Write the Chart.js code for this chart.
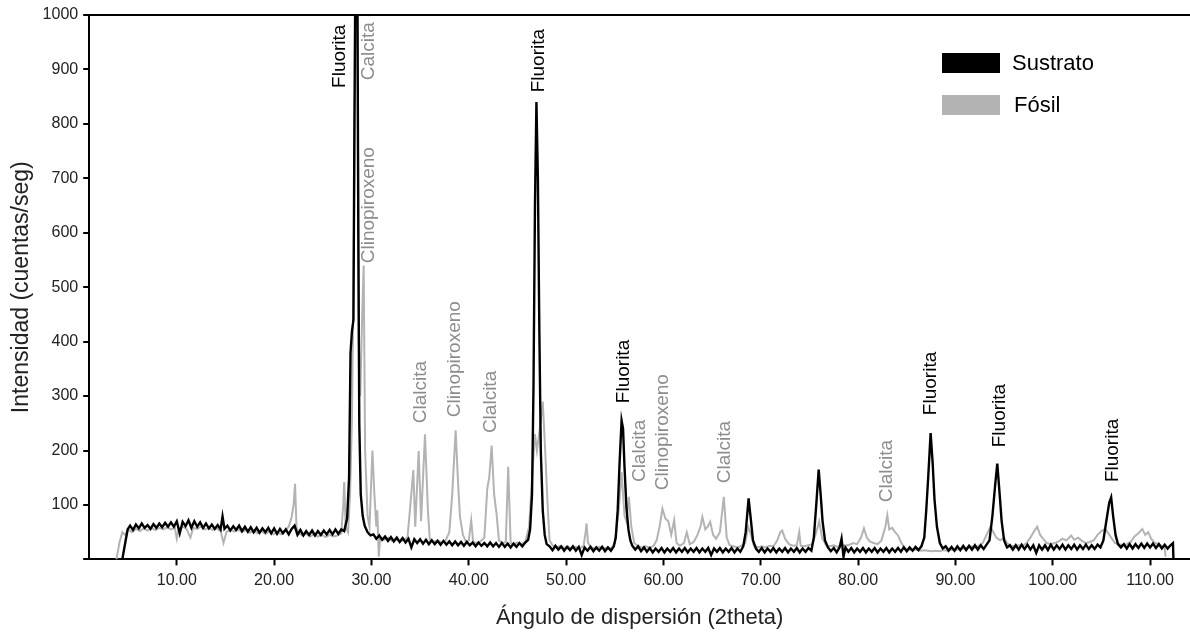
<!DOCTYPE html>
<html>
<head>
<meta charset="utf-8">
<script src="https://cdn.jsdelivr.net/npm/chart.js@4"></script>
<style>
  body { margin: 0; background: #fff; }
  #wrap { width: 1190px; height: 637px; }
</style>
</head>
<body>
<div id="wrap"><canvas id="xrd" width="1190" height="637"></canvas></div>
<script>
// difractograma: [2theta, cuentas/seg]
const sustrato = [
  [4.4,0],[4.7,30],[4.95,55],[5.2,62],[5.5,54],[5.8,64],[6.1,57],[6.4,66],[6.7,58],[7.0,63],[7.3,56],[7.6,65],
  [7.9,58],[8.2,66],[8.5,59],[8.8,67],[9.1,60],[9.4,68],[9.7,60],[10.0,70],[10.3,48],[10.6,69],[10.9,61],[11.2,72],
  [11.5,58],[11.8,70],[12.1,60],[12.4,68],[12.7,58],[13.0,66],[13.3,57],[13.6,64],[13.9,56],[14.2,63],[14.5,55],[14.7,79],
  [14.9,56],[15.2,62],[15.5,53],[15.8,61],[16.1,54],[16.4,62],[16.7,52],[17.0,60],[17.3,51],[17.6,59],[17.9,50],[18.2,58],
  [18.5,49],[18.8,57],[19.1,50],[19.4,58],[19.7,48],[20.0,57],[20.3,47],[20.6,56],[20.9,48],[21.2,55],[21.5,46],[21.8,56],
  [22.1,62],[22.4,45],[22.7,54],[23.0,44],[23.3,52],[23.6,45],[23.9,53],[24.2,44],[24.5,52],[24.8,45],[25.1,53],[25.4,46],
  [25.7,54],[26.0,46],[26.3,55],[26.6,47],[26.9,55],[27.2,52],[27.5,75],[27.7,150],[27.85,380],[28.0,420],[28.15,440],
  [28.25,800],[28.35,1080],[28.55,1080],[28.65,600],[28.75,250],[28.9,120],[29.1,80],[29.3,62],[29.6,50],[29.9,44],
  [30.2,46],[30.5,38],[30.8,44],[31.1,36],[31.4,42],[31.7,34],[32.0,41],[32.3,33],[32.6,40],[32.9,32],[33.2,39],[33.5,31],
  [33.8,38],[34.1,22],[34.4,37],[34.7,30],[35.0,37],[35.3,29],[35.6,36],[35.9,28],[36.2,35],[36.5,28],[36.8,34],[37.1,27],
  [37.4,34],[37.7,27],[38.0,33],[38.3,26],[38.6,33],[38.9,26],[39.2,32],[39.5,25],[39.8,32],[40.1,26],[40.4,31],[40.7,24],
  [41.0,31],[41.3,25],[41.6,30],[41.9,24],[42.2,31],[42.5,24],[42.8,30],[43.1,23],[43.4,30],[43.7,23],[44.0,29],[44.3,22],
  [44.6,29],[44.9,23],[45.2,30],[45.5,24],[45.8,31],[46.1,36],[46.3,55],[46.5,120],[46.65,320],[46.8,650],[46.95,840],
  [47.1,700],[47.25,420],[47.4,200],[47.6,90],[47.8,45],[48.0,28],[48.3,24],[48.6,17],[48.9,25],[49.2,18],[49.5,24],
  [49.8,16],[50.1,23],[50.4,17],[50.7,24],[51.0,16],[51.3,23],[51.6,8],[51.9,22],[52.2,16],[52.5,23],[52.8,15],[53.1,22],
  [53.4,16],[53.7,23],[54.0,15],[54.3,22],[54.6,16],[54.9,24],[55.1,40],[55.3,90],[55.5,180],[55.7,255],[55.85,240],
  [56.0,170],[56.2,95],[56.4,55],[56.6,35],[56.8,25],[57.1,18],[57.4,24],[57.7,15],[58.0,22],[58.3,14],[58.6,21],[58.9,13],
  [59.2,20],[59.5,14],[59.8,21],[60.1,13],[60.4,20],[60.7,14],[61.0,21],[61.3,13],[61.6,20],[61.9,14],[62.2,21],[62.5,13],
  [62.8,20],[63.1,14],[63.4,21],[63.7,13],[64.0,20],[64.3,14],[64.6,21],[64.9,8],[65.2,20],[65.5,14],[65.8,21],[66.1,13],
  [66.4,20],[66.7,14],[67.0,21],[67.3,13],[67.6,20],[67.9,14],[68.2,24],[68.45,50],[68.75,112],[69.0,70],[69.2,35],
  [69.5,20],[69.8,14],[70.1,21],[70.4,13],[70.7,20],[71.0,14],[71.3,21],[71.6,13],[71.9,20],[72.2,14],[72.5,21],[72.8,13],
  [73.1,20],[73.4,14],[73.7,21],[74.0,13],[74.3,20],[74.6,14],[74.9,21],[75.2,16],[75.45,40],[75.7,100],[75.95,165],
  [76.15,120],[76.35,70],[76.6,35],[76.9,22],[77.2,15],[77.5,21],[77.8,13],[78.1,22],[78.3,38],[78.5,5],[78.7,22],
  [79.0,14],[79.3,21],[79.6,13],[79.9,20],[80.2,14],[80.5,21],[80.8,13],[81.1,20],[81.4,14],[81.7,21],[82.0,13],[82.3,20],
  [82.6,14],[82.9,21],[83.2,13],[83.5,20],[83.8,14],[84.1,21],[84.4,14],[84.7,22],[85.0,15],[85.3,22],[85.6,16],[85.9,23],
  [86.2,17],[86.5,24],[86.8,40],[87.0,90],[87.2,150],[87.45,232],[87.65,180],[87.85,110],[88.1,60],[88.4,30],[88.7,20],
  [89.0,24],[89.3,16],[89.6,23],[89.9,16],[90.2,24],[90.5,17],[90.8,25],[91.1,17],[91.4,25],[91.7,18],[92.0,26],[92.3,18],
  [92.6,26],[92.9,19],[93.2,27],[93.5,35],[93.8,80],[94.1,140],[94.3,176],[94.5,130],[94.75,70],[95.0,35],[95.3,22],
  [95.6,26],[95.9,18],[96.2,26],[96.5,18],[96.8,27],[97.1,19],[97.4,27],[97.7,18],[98.0,26],[98.3,12],[98.6,26],[98.9,18],
  [99.2,26],[99.5,17],[99.8,27],[100.1,18],[100.4,26],[100.7,19],[101.0,27],[101.3,18],[101.6,26],[101.9,19],[102.2,27],
  [102.5,18],[102.8,26],[103.1,19],[103.4,27],[103.7,19],[104.0,26],[104.3,19],[104.6,27],[104.9,22],[105.2,35],[105.5,70],
  [105.8,104],[106.0,114],[106.2,80],[106.45,45],[106.7,28],[107.0,22],[107.3,28],[107.6,20],[107.9,28],[108.2,20],
  [108.5,28],[108.8,21],[109.1,29],[109.4,21],[109.7,29],[110.0,22],[110.3,29],[110.6,21],[110.9,28],[111.2,20],
  [111.5,27],[111.8,20],[112.1,26],[112.35,30],[112.4,0]
];

const fosil = [
  [3.8,0],[4.1,30],[4.4,50],[4.7,45],[5.0,55],[5.4,50],[5.8,56],[6.2,52],[6.6,57],[7.0,53],[7.4,58],[7.8,54],[8.2,58],
  [8.6,55],[9.0,59],[9.4,55],[9.8,58],[10.0,38],[10.2,57],[10.6,60],[11.0,56],[11.4,40],[11.7,58],[12.1,56],[12.5,60],
  [12.9,55],[13.3,58],[13.7,54],[14.1,57],[14.5,52],[14.8,30],[15.1,50],[15.5,55],[15.9,51],[16.3,55],[16.7,50],[17.1,54],
  [17.5,49],[17.9,53],[18.3,48],[18.7,52],[19.1,47],[19.5,51],[19.9,46],[20.3,50],[20.7,46],[21.1,52],[21.5,60],[21.8,78],
  [22.0,100],[22.15,139],[22.3,60],[22.5,48],[22.9,44],[23.3,47],[23.7,42],[24.1,46],[24.5,42],[24.9,45],[25.3,41],
  [25.7,45],[26.1,42],[26.5,44],[26.9,48],[27.1,100],[27.2,142],[27.35,60],[27.6,50],[27.8,120],[28.0,260],[28.2,600],
  [28.4,1080],[28.55,1080],[28.7,400],[28.85,300],[29.05,450],[29.2,540],[29.35,200],[29.6,80],[29.8,60],[30.1,200],
  [30.3,120],[30.5,60],[30.6,90],[30.75,5],[30.9,40],[31.3,36],[31.7,40],[32.1,34],[32.5,37],[32.9,33],[33.3,36],
  [33.7,40],[34.0,100],[34.3,164],[34.5,60],[34.85,199],[35.1,70],[35.5,230],[35.8,90],[36.0,35],[36.4,32],[36.8,35],
  [37.2,31],[37.6,34],[38.0,50],[38.3,120],[38.65,237],[38.9,140],[39.1,78],[39.4,45],[39.7,33],[40.0,35],[40.25,72],
  [40.45,32],[40.8,30],[41.2,33],[41.6,40],[41.9,130],[42.1,150],[42.35,209],[42.6,120],[42.85,84],[43.1,35],[43.5,30],
  [43.8,32],[44.05,170],[44.3,30],[44.6,28],[45.0,31],[45.4,28],[45.8,32],[46.2,60],[46.5,150],[46.8,230],[47.0,200],
  [47.3,240],[47.6,290],[47.85,200],[48.1,100],[48.3,35],[48.6,26],[49.0,22],[49.4,25],[49.8,21],[50.2,24],[50.6,20],
  [51.0,23],[51.4,20],[51.8,25],[52.0,50],[52.1,66],[52.25,30],[52.6,22],[53.0,20],[53.4,23],[53.8,20],[54.2,22],
  [54.6,20],[55.0,30],[55.4,90],[55.7,160],[56.0,80],[56.2,70],[56.45,115],[56.7,60],[57.0,30],[57.4,24],[57.8,22],
  [58.2,24],[58.6,21],[59.0,25],[59.3,35],[59.6,60],[59.9,93],[60.2,75],[60.5,70],[60.8,45],[61.1,72],[61.35,30],
  [61.7,25],[62.1,30],[62.4,50],[62.7,28],[63.1,32],[63.5,45],[63.8,60],[64.0,78],[64.3,55],[64.55,60],[64.8,69],
  [65.1,45],[65.4,38],[65.8,50],[66.2,115],[66.5,40],[66.8,26],[67.2,24],[67.6,22],[68.0,25],[68.4,30],[68.7,60],
  [69.0,45],[69.3,25],[69.7,22],[70.1,24],[70.5,22],[70.9,25],[71.3,24],[71.7,35],[72.0,50],[72.2,53],[72.5,38],
  [72.9,28],[73.3,25],[73.7,26],[73.95,50],[74.1,25],[74.5,24],[74.9,26],[75.3,28],[75.7,50],[76.0,70],[76.3,40],
  [76.7,26],[77.1,24],[77.5,26],[77.9,23],[78.3,27],[78.7,25],[79.1,27],[79.5,30],[79.9,28],[80.3,40],[80.6,57],
  [80.9,40],[81.2,33],[81.6,30],[82.0,28],[82.4,35],[82.8,60],[83.0,81],[83.2,55],[83.5,58],[83.8,50],[84.1,44],
  [84.4,32],[84.8,20],[85.2,18],[85.6,17],[86.0,18],[86.4,16],[86.8,17],[87.2,16],[87.6,15],[88.0,16],[88.4,15],
  [88.8,17],[89.2,16],[89.6,18],[90.0,17],[90.4,19],[90.8,20],[91.2,22],[91.6,24],[92.0,22],[92.4,25],[92.8,30],
  [93.2,45],[93.6,60],[93.9,50],[94.2,40],[94.6,35],[95.0,40],[95.3,30],[95.7,25],[96.1,24],[96.5,26],[96.9,25],
  [97.3,30],[97.7,40],[98.1,52],[98.4,60],[98.7,45],[99.0,38],[99.4,30],[99.8,28],[100.2,30],[100.6,33],[101.0,38],
  [101.4,35],[101.9,44],[102.2,36],[102.6,40],[103.0,34],[103.4,30],[103.8,32],[104.2,35],[104.6,45],[105.0,52],
  [105.4,56],[105.7,48],[106.0,40],[106.4,30],[106.8,28],[107.2,26],[107.6,28],[108.0,32],[108.4,42],[108.8,48],
  [109.2,56],[109.5,45],[109.8,50],[110.1,38],[110.5,30],[110.9,28],[111.3,24],[111.5,20],[111.6,5]
];

// etiquetas de picos: texto, 2theta, cuentas (base del texto)
const picoTextos = ["Fluorita","Calcita","Clinopiroxeno","Fluorita","Clalcita","Clinopiroxeno","Clalcita","Fluorita",
  "Clalcita","Clinopiroxeno","Clalcita","Clalcita","Fluorita","Fluorita","Fluorita"];
const picoX = [26.7, 29.7, 29.7, 47.2, 35.1, 38.6, 42.3, 55.95, 57.6, 59.95, 66.3, 82.95, 87.5, 94.55, 106.15];
const picoY = [866, 880, 544, 858, 250, 261, 232, 287, 142, 127, 140, 105, 265, 206, 142];
const picoSerie = [0, 1, 1, 0, 1, 1, 1, 0, 1, 1, 1, 1, 0, 0, 0];

const yTicks = [100, 200, 300, 400, 500, 600, 700, 800, 900, 1000];

const FONT = "'Liberation Sans', Arial, sans-serif";
const colores = ["#000000", "#b3b3b3"];

const etiquetasPlugin = {
  id: "etiquetas",
  afterDatasetsDraw(chart) {
    const ctx = chart.ctx;
    const xs = chart.scales.x, ys = chart.scales.y;
    ctx.save();
    ctx.font = "19px " + FONT;
    ctx.textAlign = "left";
    ctx.textBaseline = "middle";
    picoTextos.forEach((t, i) => {
      ctx.save();
      ctx.translate(xs.getPixelForValue(picoX[i]), ys.getPixelForValue(picoY[i]));
      ctx.rotate(-Math.PI / 2);
      ctx.fillStyle = picoSerie[i] === 0 ? "#000" : "#8c8c8c";
      ctx.fillText(t, 0, 0);
      ctx.restore();
    });
    ctx.restore();
  }
};

const leyendaPlugin = {
  id: "leyenda",
  afterDraw(chart) {
    const ctx = chart.ctx;
    const a = chart.chartArea;
    ctx.save();
    ctx.font = "22px " + FONT;
    ctx.textBaseline = "middle";
    chart.data.datasets.forEach((ds, i) => {
      const top = a.top + 38 + i * 42;
      ctx.fillStyle = ds.borderColor;
      ctx.fillRect(942, top, 58, 20);
      ctx.fillStyle = "#000";
      ctx.fillText(ds.label, 1012 + i * 2, top + 11);
    });
    ctx.restore();
  }
};

new Chart(document.getElementById("xrd"), {
  type: "line",
  data: {
    datasets: [
      { label: "Sustrato", data: sustrato.map(p => ({ x: p[0], y: p[1] })), borderColor: colores[0], borderWidth: 2.4 },
      { label: "Fósil", data: fosil.map(p => ({ x: p[0], y: p[1] })), borderColor: colores[1], borderWidth: 2 }
    ]
  },
  options: {
    responsive: false,
    animation: false,
    events: [],
    layout: { padding: { top: 15, left: 4, right: 0, bottom: 6 } },
    elements: { point: { radius: 0 }, line: { tension: 0 } },
    plugins: { legend: { display: false }, tooltip: { enabled: false } },
    scales: {
      x: {
        type: "linear",
        min: 1.0,
        max: 114.1,
        border: { color: "#000", width: 2 },
        grid: { color: "transparent", tickColor: "#000", tickLength: 6, tickWidth: 2 },
        ticks: {
          stepSize: 10,
          includeBounds: false,
          color: "#222",
          font: { family: FONT, size: 16 },
          padding: 6,
          callback: v => v.toFixed(2)
        },
        title: { display: true, text: "Ángulo de dispersión (2theta)", color: "#222",
                 font: { family: FONT, size: 22 }, padding: { top: 8, bottom: 0 } }
      },
      y: {
        min: 0,
        max: 1000,
        afterBuildTicks: s => { s.ticks = [0].concat(yTicks).map(v => ({ value: v })); },
        border: { color: "#000", width: 2 },
        grid: {
          color: c => (c.tick && c.tick.value === 1000 ? "#000" : "transparent"),
          lineWidth: 2,
          tickColor: "#000",
          tickLength: 6,
          tickWidth: 2
        },
        ticks: {
          color: "#222",
          font: { family: FONT, size: 16 },
          padding: 5,
          callback: v => (v === 0 ? "" : v)
        },
        title: { display: true, text: "Intensidad (cuentas/seg)", color: "#222",
                 font: { family: FONT, size: 23 }, padding: { top: 4, bottom: 2 } }
      }
    }
  },
  plugins: [etiquetasPlugin, leyendaPlugin]
});
</script>
</body>
</html>
